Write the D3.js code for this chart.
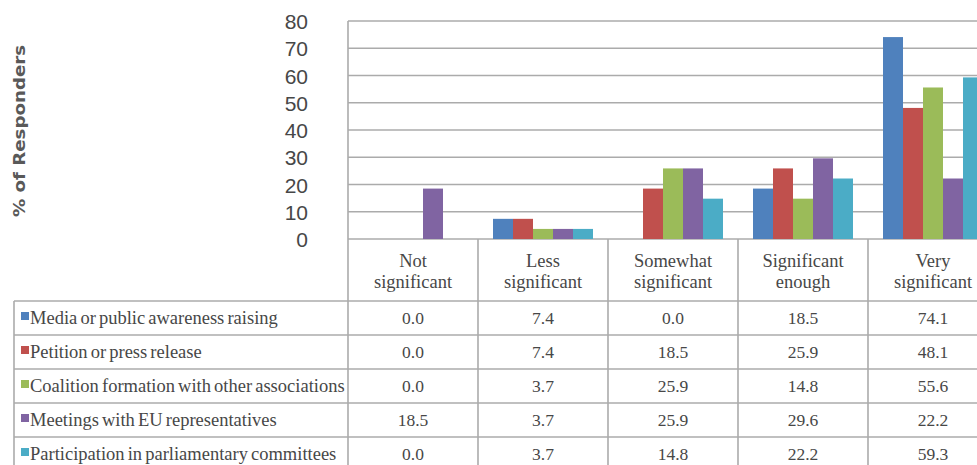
<!DOCTYPE html>
<html>
<head>
<meta charset="utf-8">
<script src="https://cdn.jsdelivr.net/npm/d3@7"></script>
<style>
  html, body { margin: 0; padding: 0; background: #ffffff; overflow: hidden; }
  svg { display: block; }
</style>
</head>
<body>
<svg id="chart" width="977" height="465"></svg>
<script>
// Significance categories (header cells of the data table, two lines each)
const categories = ["Not significant", "Less significant", "Somewhat significant", "Significant enough", "Very significant"];
const categoryLines = [["Not", "significant"], ["Less", "significant"], ["Somewhat", "significant"], ["Significant", "enough"], ["Very", "significant"]];

// Series names
const seriesNames = [
  "Media or public awareness raising",
  "Petition or press release",
  "Coalition formation with other associations",
  "Meetings with EU representatives",
  "Participation in parliamentary committees"
];

// % of responders per category
const mediaValues         = [0.0, 7.4, 0.0, 18.5, 74.1];
const petitionValues      = [0.0, 7.4, 18.5, 25.9, 48.1];
const coalitionValues     = [0.0, 3.7, 25.9, 14.8, 55.6];
const meetingsValues      = [18.5, 3.7, 25.9, 29.6, 22.2];
const participationValues = [0.0, 3.7, 14.8, 22.2, 59.3];

const seriesColors = ["#4F81BD", "#C0504D", "#9BBB59", "#8064A2", "#4BACC6"];

// Value axis ticks
const yTicks = [0, 10, 20, 30, 40, 50, 60, 70, 80];

const seriesValues = [mediaValues, petitionValues, coalitionValues, meetingsValues, participationValues];
const series = seriesNames.map((name, i) => ({ name, color: seriesColors[i], values: seriesValues[i] }));

// Layout
const plotLeft = 348, plotTop = 21, plotBottom = 239;
const catWidth = 130;
const plotRight = plotLeft + catWidth * categories.length;
const headerBottom = 301;
const rowH = 34;
const tableLeft = 14;
const gridColor = "#ababab";
const textColor = "#474747";

const svg = d3.select("#chart");

const x0 = d3.scaleBand().domain(categories).range([plotLeft, plotRight]).padding(0);
const x1 = d3.scaleBand().domain(seriesNames).range([0, x0.bandwidth()]).paddingInner(0).paddingOuter(0.75);
const y = d3.scaleLinear().domain([0, 80]).range([plotBottom, plotTop]);

// Horizontal gridlines
svg.append("g")
  .selectAll("line")
  .data(yTicks)
  .join("line")
  .attr("x1", plotLeft).attr("x2", plotRight)
  .attr("y1", d => y(d)).attr("y2", d => y(d))
  .attr("stroke", gridColor).attr("stroke-width", 1.6);

// Bars
const groups = svg.append("g")
  .selectAll("g")
  .data(categories)
  .join("g")
  .attr("transform", d => `translate(${x0(d)},0)`);

groups.selectAll("rect")
  .data((c, ci) => series.map(s => ({ name: s.name, color: s.color, value: s.values[ci] })))
  .join("rect")
  .attr("x", d => x1(d.name))
  .attr("width", x1.bandwidth())
  .attr("y", d => y(d.value))
  .attr("height", d => y(0) - y(d.value))
  .attr("fill", d => d.color);

// Value axis tick labels
const yAxis = d3.axisLeft(y).tickValues(yTicks).tickSize(0).tickPadding(0).tickFormat(d3.format("d"));
const yAxisG = svg.append("g")
  .attr("transform", `translate(${plotLeft - 40},0)`)
  .call(yAxis);
yAxisG.select(".domain").remove();
yAxisG.selectAll("text")
  .attr("font-family", "'Liberation Sans', Arial, sans-serif")
  .attr("font-size", 21)
  .attr("fill", textColor)
  .attr("dy", "0.36em");

// Axis title
svg.append("text")
  .attr("transform", `translate(25,${(plotTop + plotBottom) / 2 + 1}) rotate(-90)`)
  .attr("text-anchor", "middle")
  .attr("font-family", "'DejaVu Sans', sans-serif")
  .attr("font-weight", "bold")
  .attr("font-size", 16)
  .attr("textLength", 172)
  .attr("lengthAdjust", "spacingAndGlyphs")
  .attr("fill", "#595959")
  .text("% of Responders");

// Data table
const table = svg.append("g");
const tableBottom = headerBottom + rowH * series.length;

// Vertical column lines (category boundaries extend from the axis down)
const boundaries = categories.map(c => x0(c)).concat([plotRight]);
table.selectAll("line.col")
  .data(boundaries)
  .join("line")
  .attr("class", "col")
  .attr("x1", d => d).attr("x2", d => d)
  .attr("y1", (d, i) => i === 0 ? plotTop : plotBottom)
  .attr("y2", tableBottom)
  .attr("stroke", gridColor).attr("stroke-width", 1.6);

// Legend column left edge
table.append("line")
  .attr("x1", tableLeft).attr("x2", tableLeft)
  .attr("y1", headerBottom).attr("y2", tableBottom)
  .attr("stroke", gridColor).attr("stroke-width", 1.6);

// Horizontal row lines
const rowLines = d3.range(series.length + 1).map(i => headerBottom + i * rowH);
table.selectAll("line.row")
  .data(rowLines)
  .join("line")
  .attr("class", "row")
  .attr("x1", tableLeft).attr("x2", plotRight)
  .attr("y1", d => d).attr("y2", d => d)
  .attr("stroke", gridColor).attr("stroke-width", 1.6);

const serif = "'Liberation Serif', 'Times New Roman', serif";

// Header cells
table.selectAll("text.head")
  .data(categories)
  .join("text")
  .attr("class", "head")
  .attr("x", d => x0(d) + x0.bandwidth() / 2)
  .attr("y", 267)
  .attr("text-anchor", "middle")
  .attr("font-family", serif)
  .attr("font-size", 18.5)
  .attr("fill", textColor)
  .each(function (d, i) {
    const t = d3.select(this);
    categoryLines[i].forEach((line, li) => {
      t.append("tspan")
        .attr("x", x0(d) + x0.bandwidth() / 2)
        .attr("dy", li === 0 ? 0 : 21)
        .text(line);
    });
  });

// Rows: legend key, series name, values
const rows = table.selectAll("g.rowg")
  .data(series)
  .join("g")
  .attr("class", "rowg")
  .attr("transform", (d, i) => `translate(0,${headerBottom + i * rowH})`);

rows.append("rect")
  .attr("x", 21).attr("y", 11)
  .attr("width", 8).attr("height", 8)
  .attr("fill", d => d.color);

rows.append("text")
  .attr("x", 30).attr("y", 23)
  .attr("font-family", serif)
  .attr("font-size", 18.5)
  .attr("word-spacing", -1.5)
  .attr("fill", textColor)
  .text(d => d.name);

rows.selectAll("text.val")
  .data(d => d.values.map((v, ci) => ({ v, c: categories[ci] })))
  .join("text")
  .attr("class", "val")
  .attr("x", d => x0(d.c) + x0.bandwidth() / 2)
  .attr("y", 23)
  .attr("text-anchor", "middle")
  .attr("font-family", serif)
  .attr("font-size", 17.5)
  .attr("fill", textColor)
  .text(d => d3.format(".1f")(d.v));
</script>
</body>
</html>
